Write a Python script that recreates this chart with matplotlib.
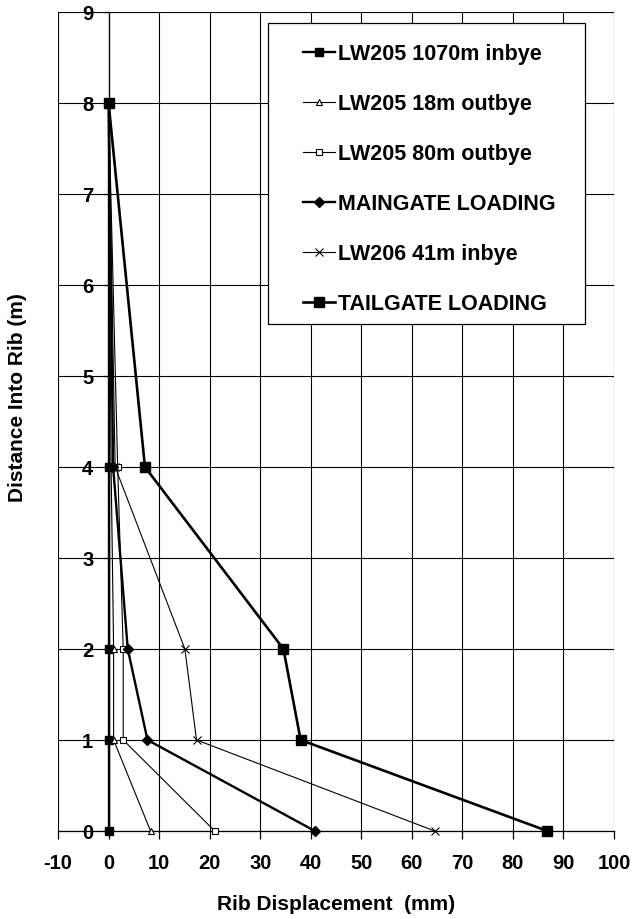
import matplotlib
matplotlib.use("Agg")
import matplotlib.pyplot as plt
from matplotlib.patches import Rectangle

plt.rcParams["font.family"] = ["Liberation Sans", "DejaVu Sans"]
plt.rcParams["font.weight"] = "bold"
plt.rcParams["axes.unicode_minus"] = False

# depth into rib (m)
depth = [0, 1, 2, 4, 8]

# rib displacement (mm) for each monitoring site
lw205_1070_inbye = [0, 0, 0, 0, 0]
lw205_18_outbye = [8.3, 1.0, 1.0, 0.5, 0]
lw205_80_outbye = [21.0, 2.9, 2.9, 1.8, 0]
maingate_loading = [40.8, 7.7, 3.8, 0.9, 0]
lw206_41_inbye = [64.5, 17.4, 15.1, 1.3, 0]
tailgate_loading = [86.8, 38.0, 34.6, 7.2, 0]

x_ticks = list(range(-10, 101, 10))
y_ticks = list(range(0, 10))

fig = plt.figure(figsize=(6.32, 9.2), dpi=100)
ax = fig.add_axes([0.0918, 0.0957, 0.8797, 0.8902])

series = [
    (lw205_1070_inbye, "LW205 1070m inbye", dict(marker="s", ms=5.5, lw=1.7, mfc="black")),
    (lw205_18_outbye, "LW205 18m outbye", dict(marker="^", ms=5, lw=0.8, mfc="white", mew=0.8)),
    (lw205_80_outbye, "LW205 80m outbye", dict(marker="s", ms=4.5, lw=0.8, mfc="white", mew=0.8)),
    (maingate_loading, "MAINGATE LOADING", dict(marker="D", ms=5, lw=1.7, mfc="black")),
    (lw206_41_inbye, "LW206 41m inbye", dict(marker="x", ms=5.5, lw=0.8, mew=0.8)),
    (tailgate_loading, "TAILGATE LOADING", dict(marker="s", ms=7.5, lw=1.9, mfc="black")),
]
for xs, label, style in series:
    ax.plot(xs, depth, color="black", mec="black", label=label,
            clip_on=False, zorder=3, **style)

ax.set_xlim(-10, 100)
ax.set_ylim(0, 9)
ax.set_xticks(x_ticks)
ax.set_yticks(y_ticks)
ax.grid(True, color="black", linewidth=0.8)
ax.set_axisbelow(True)

ax.spines["left"].set_position(("data", 0))
for s in ax.spines.values():
    s.set_linewidth(0.9)
ax.spines["right"].set_visible(False)
ax.spines["top"].set_visible(False)

ax.tick_params(axis="x", direction="out", length=6, width=0.9, pad=10, labelsize=14.5)
ax.tick_params(axis="y", direction="out", length=4, width=0.9, pad=7, labelsize=14.5)

ax.set_xlabel("Rib Displacement  (mm)", fontsize=15, fontweight="bold", va="center")
ax.xaxis.set_label_coords(0.5, -0.089)
ax.set_ylabel("Distance Into Rib (m)", fontsize=15, fontweight="bold", va="center")
ax.yaxis.set_label_coords(-0.072, 0.53)

# legend box
box = Rectangle((0.378, 0.619), 0.57, 0.3676, transform=ax.transAxes,
                facecolor="white", edgecolor="black", linewidth=0.9, zorder=4)
ax.add_patch(box)
leg = ax.legend(loc="upper left", bbox_to_anchor=(0.4406, 0.962),
                frameon=False, fontsize=15.5, borderpad=0, borderaxespad=0,
                handlelength=1.5, handletextpad=0.15, labelspacing=1.35)
leg.set_zorder(5)

fig.savefig("out.png", dpi=100)
